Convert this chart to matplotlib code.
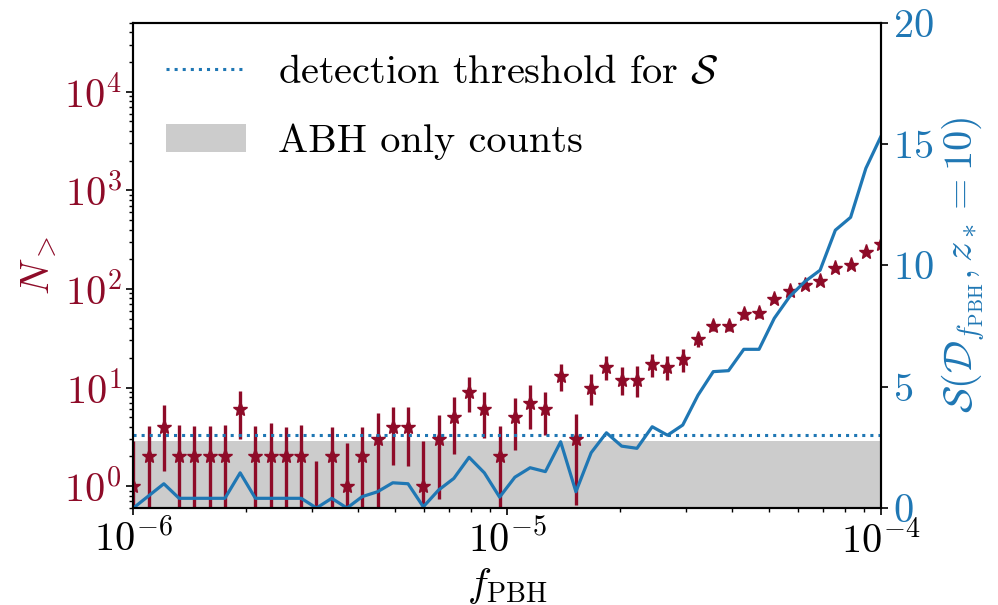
import numpy as np
import matplotlib
matplotlib.use('Agg')
import matplotlib.pyplot as plt
from matplotlib.lines import Line2D
from matplotlib.patches import Patch

plt.rcParams['font.family'] = 'serif'
plt.rcParams['font.serif'] = ['cmr10', 'DejaVu Serif']
plt.rcParams['mathtext.fontset'] = 'cm'
plt.rcParams['axes.formatter.use_mathtext'] = True
plt.rcParams['axes.unicode_minus'] = False
plt.rcParams['font.size'] = 29

red = '#8E0B28'
blue = '#1f77b4'

# f_PBH grid (50 log-spaced bins)
f_pbh = np.logspace(-6, -4, 50)

# N_> counts
n_count = [1, 2, 4, 2, 2, 2, 2, 6, 2, 2,
           2, 2, 0, 2, 1, 2, 3, 4, 4, 1,
           3, 5, 9, 6, 2, 5, 7, 6, 13, 3,
           10, 16, 12, 12, 17.5, 16, 19.5, 31, 42, 42,
           56, 57, 79, 95, 110, 120, 162, 175, 237, 282]
n_lo = [0, 0, 1.43, 0, 0, 0, 0, 3.0, 0, 0,
        0, 0, 0, 0, 0, 0, 0, 1.63, 1.6, 0,
        0.74, 2.14, 5.6, 3.1, 0, 2.3, 3.8, 3.27, 9.3, 0.64,
        6.7, 11.8, 8.3, 8.0, 12.9, 11.8, 14.3, 26, 37, 37,
        50, 51, 72, 87, 101, 111, 150, 162, 222, 265]
n_hi = [2.9, 4.1, 6.7, 4.2, 4.1, 4.1, 4.2, 9.2, 4.1, 4.4,
        4.0, 4.2, 1.8, 4.0, 2.74, 3.97, 5.5, 6.4, 6.4, 2.9,
        5.3, 8.0, 12.7, 9.0, 4.1, 7.9, 10.5, 9.0, 17.3, 5.4,
        13.7, 21, 16.3, 16.7, 22, 21, 24.6, 36, 47, 47,
        62, 63, 86, 103, 119, 129, 174, 188, 252, 299]

# significance S(D_fPBH, z*=10)
sig = [0, 0.5, 1.0, 0.4, 0.4, 0.4, 0.4, 1.45, 0.4, 0.4,
       0.4, 0.4, 0, 0.4, 0, 0.47, 0.67, 1.04, 1.0, 0.05,
       0.74, 1.22, 2.09, 1.45, 0.45, 1.27, 1.66, 1.5, 2.73, 0.67,
       2.28, 3.1, 2.55, 2.46, 3.35, 3.0, 3.42, 4.65, 5.62, 5.66,
       6.54, 6.54, 7.82, 8.71, 9.33, 9.8, 11.45, 11.98, 14.0, 15.33]

s_threshold = 3.0
n_abh = 2.87

n_count = np.array(n_count)
yerr = [n_count - np.array(n_lo), np.array(n_hi) - n_count]

fig = plt.figure(figsize=(9.98, 6.05), dpi=100)
ax1 = fig.add_axes([0.1336, 0.1603, 0.7493, 0.8022])

ax1.fill_between([1e-6, 1e-4], 1e-3, n_abh, color='#cccccc', lw=0, zorder=0)
ax1.errorbar(f_pbh, n_count, yerr=yerr, fmt='*', color=red, ms=11,
             elinewidth=2.4, capsize=0, zorder=2)
ax1.set_xscale('log')
ax1.set_yscale('log')
ax1.set_xlim(1e-6, 1e-4)
ax1.set_ylim(0.6, 5e4)
ax1.set_xlabel(r'$f_{\rm PBH}$')
ax1.set_ylabel(r'$N_>$', color=red)
ax1.tick_params(axis='y', which='both', labelcolor=red)

ax2 = ax1.twinx()
ax2.plot(f_pbh, sig, color=blue, lw=2.3)
ax2.axhline(s_threshold, color=blue, ls=':', lw=2.2)
ax2.set_ylim(0, 20)
ax2.set_yticks([0, 5, 10, 15, 20])
ax2.set_ylabel(r'$\mathcal{S}(\mathcal{D}_{f_{\rm PBH}}, z_* = 10)$', color=blue)
ax2.tick_params(axis='y', labelcolor=blue)

for ax in (ax1, ax2):
    for sp in ax.spines.values():
        sp.set_linewidth(1.5)
    ax.tick_params(which='major', length=5, width=1.2)
    ax.tick_params(which='minor', length=3, width=1.0)

handles = [Line2D([], [], color=blue, ls=':', lw=2.2),
           Patch(facecolor='#cccccc', edgecolor='none')]
ax2.legend(handles, [r'detection threshold for $\mathcal{S}$', 'ABH only counts'],
           loc='upper left', frameon=False, labelspacing=0.8,
           borderaxespad=0.4)

fig.savefig('out.png')
